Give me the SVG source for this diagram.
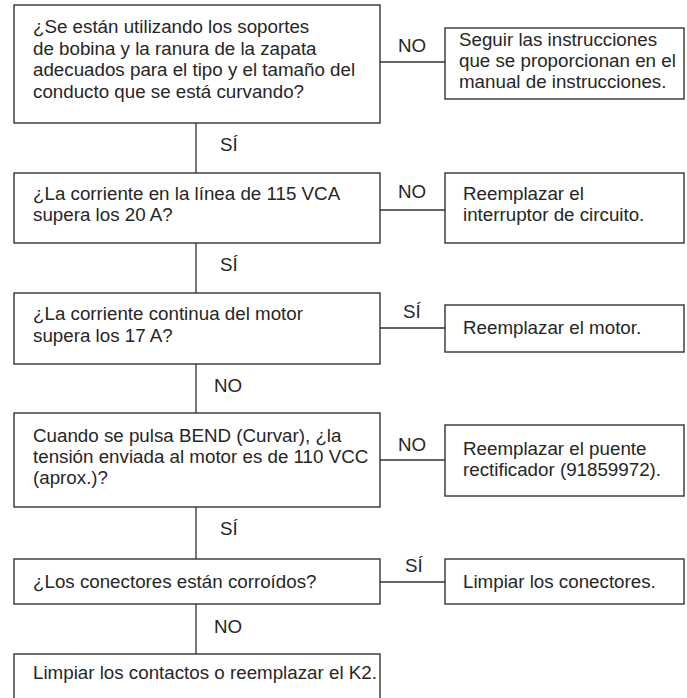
<svg xmlns="http://www.w3.org/2000/svg" width="687" height="698" viewBox="0 0 687 698">
<style>
.box{fill:#fff;stroke:#333;stroke-width:1.4}
.ln{stroke:#333;stroke-width:1.3;fill:none}
text{font-family:"Liberation Sans",Arial,sans-serif;font-size:18.75px;fill:#262626}
</style>
<rect width="687" height="698" fill="#fff"/>
<g id="connectors">
<path class="ln" d="M196 123V173M196 243V293M196 364V413M196 507V559M196 604V654"/>
<path class="ln" d="M380 62H445M380 210H445M380 328H445M380 460H445M380 582H445"/>
<text x="220" y="151">SÍ</text>
<text x="220" y="271">SÍ</text>
<text x="214" y="392">NO</text>
<text x="220" y="535">SÍ</text>
<text x="214" y="633">NO</text>
<text x="398" y="52">NO</text>
<text x="398" y="198">NO</text>
<text x="403" y="318">SÍ</text>
<text x="398" y="451">NO</text>
<text x="405" y="572">SÍ</text>
</g>
<g id="q1">
<rect class="box" x="14" y="5" width="366" height="118"/>
<text x="33" y="33">¿Se están utilizando los soportes</text>
<text x="33" y="54.5">de bobina y la ranura de la zapata</text>
<text x="33" y="76">adecuados para el tipo y el tamaño del</text>
<text x="33" y="97.5">conducto que se está curvando?</text>
</g>
<g id="a1">
<rect class="box" x="445" y="28" width="239" height="71"/>
<text x="459" y="46">Seguir las instrucciones</text>
<text x="459" y="67">que se proporcionan en el</text>
<text x="459" y="88">manual de instrucciones.</text>
</g>
<g id="q2">
<rect class="box" x="14" y="173" width="366" height="70"/>
<text x="33" y="200">¿La corriente en la línea de 115 VCA</text>
<text x="33" y="221">supera los 20 A?</text>
</g>
<g id="a2">
<rect class="box" x="445" y="173" width="239" height="70"/>
<text x="463" y="200">Reemplazar el</text>
<text x="463" y="221">interruptor de circuito.</text>
</g>
<g id="q3">
<rect class="box" x="14" y="293" width="366" height="71"/>
<text x="33" y="320">¿La corriente continua del motor</text>
<text x="33" y="342">supera los 17 A?</text>
</g>
<g id="a3">
<rect class="box" x="445" y="305" width="239" height="47"/>
<text x="463" y="334">Reemplazar el motor.</text>
</g>
<g id="q4">
<rect class="box" x="14" y="413" width="366" height="94"/>
<text x="33" y="442">Cuando se pulsa BEND (Curvar), ¿la</text>
<text x="33" y="463">tensión enviada al motor es de 110 VCC</text>
<text x="33" y="484">(aprox.)?</text>
</g>
<g id="a4">
<rect class="box" x="445" y="425" width="239" height="71"/>
<text x="463" y="455">Reemplazar el puente</text>
<text x="463" y="476">rectificador (91859972).</text>
</g>
<g id="q5">
<rect class="box" x="14" y="559" width="366" height="45"/>
<text x="33" y="588">¿Los conectores están corroídos?</text>
</g>
<g id="a5">
<rect class="box" x="445" y="559" width="239" height="45"/>
<text x="463" y="588">Limpiar los conectores.</text>
</g>
<g id="end">
<rect class="box" x="14" y="654" width="366" height="60"/>
<text x="33" y="679">Limpiar los contactos o reemplazar el K2.</text>
</g>
</svg>
